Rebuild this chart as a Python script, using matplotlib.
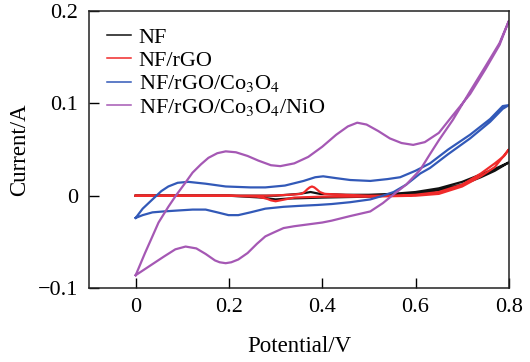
import matplotlib
matplotlib.use("Agg")
import matplotlib.pyplot as plt

plt.rcParams['font.family'] = ['Liberation Serif', 'DejaVu Serif']
plt.rcParams['mathtext.fontset'] = 'stix'

labels = ['NF', 'NF/rGO', r'NF/rGO/Co$_3$O$_4$', r'NF/rGO/Co$_3$O$_4$/NiO']
colors = ['#111111', '#f02a2a', '#3259b8', '#a558b4']

# NF (black)
nf_fwd_x = [0.000, 0.200, 0.300, 0.350, 0.375, 0.395, 0.450, 0.500, 0.550, 0.600, 0.650, 0.700, 0.740, 0.770, 0.800]
nf_fwd_y = [0.000, 0.000, 0.000, 0.002, 0.004, 0.002, 0.001, 0.001, 0.002, 0.004, 0.008, 0.015, 0.023, 0.029, 0.036]
nf_rev_x = [0.800, 0.770, 0.740, 0.700, 0.650, 0.600, 0.500, 0.400, 0.330, 0.300, 0.270, 0.200, 0.000]
nf_rev_y = [0.036, 0.027, 0.020, 0.012, 0.006, 0.002, -0.001, -0.002, -0.003, -0.004, -0.002, 0.000, 0.000]

# NF/rGO (red)
rgo_fwd_x = [0.000, 0.100, 0.200, 0.280, 0.330, 0.355, 0.362, 0.368, 0.373, 0.378, 0.383, 0.388, 0.395, 0.405, 0.450, 0.500, 0.550, 0.600, 0.650, 0.700, 0.740, 0.770, 0.790, 0.800]
rgo_fwd_y = [0.000, 0.000, 0.000, 0.000, 0.001, 0.002, 0.004, 0.007, 0.009, 0.010, 0.009, 0.007, 0.004, 0.002, 0.001, 0.000, 0.000, 0.001, 0.004, 0.012, 0.024, 0.035, 0.043, 0.050]
rgo_rev_x = [0.800, 0.770, 0.740, 0.700, 0.650, 0.600, 0.500, 0.400, 0.340, 0.320, 0.310, 0.300, 0.290, 0.280, 0.260, 0.200, 0.100, 0.000]
rgo_rev_y = [0.050, 0.031, 0.021, 0.010, 0.002, 0.000, -0.001, -0.001, -0.002, -0.004, -0.005, -0.006, -0.005, -0.003, -0.001, 0.000, 0.000, 0.000]

# NF/rGO/Co3O4 (blue)
co_fwd_x = [0.000, 0.015, 0.036, 0.055, 0.070, 0.090, 0.113, 0.150, 0.193, 0.246, 0.278, 0.320, 0.360, 0.385, 0.402, 0.430, 0.460, 0.503, 0.540, 0.567, 0.600, 0.631, 0.670, 0.717, 0.760, 0.787, 0.800]
co_fwd_y = [-0.024, -0.014, -0.004, 0.005, 0.010, 0.014, 0.015, 0.013, 0.010, 0.009, 0.009, 0.011, 0.016, 0.020, 0.021, 0.019, 0.017, 0.016, 0.018, 0.020, 0.027, 0.035, 0.050, 0.066, 0.083, 0.097, 0.098]
co_rev_x = [0.800, 0.787, 0.760, 0.717, 0.670, 0.631, 0.610, 0.580, 0.553, 0.530, 0.503, 0.460, 0.420, 0.390, 0.350, 0.317, 0.278, 0.246, 0.220, 0.199, 0.175, 0.150, 0.122, 0.090, 0.060, 0.036, 0.015, 0.000]
co_rev_y = [0.098, 0.094, 0.080, 0.062, 0.045, 0.030, 0.024, 0.012, 0.004, 0.000, -0.004, -0.007, -0.009, -0.010, -0.011, -0.012, -0.014, -0.018, -0.021, -0.021, -0.018, -0.015, -0.015, -0.016, -0.017, -0.018, -0.021, -0.024]

# NF/rGO/Co3O4/NiO (purple)
nio_fwd_x = [0.000, 0.010, 0.020, 0.035, 0.049, 0.070, 0.086, 0.105, 0.122, 0.140, 0.156, 0.175, 0.193, 0.215, 0.240, 0.263, 0.290, 0.310, 0.340, 0.370, 0.400, 0.430, 0.455, 0.475, 0.495, 0.520, 0.545, 0.570, 0.595, 0.620, 0.650, 0.680, 0.717, 0.750, 0.780, 0.800]
nio_fwd_y = [-0.086, -0.074, -0.062, -0.045, -0.029, -0.012, 0.000, 0.013, 0.025, 0.034, 0.041, 0.046, 0.048, 0.047, 0.043, 0.038, 0.033, 0.032, 0.035, 0.042, 0.053, 0.066, 0.075, 0.079, 0.077, 0.070, 0.062, 0.057, 0.055, 0.058, 0.068, 0.087, 0.110, 0.137, 0.163, 0.189]
nio_rev_x = [0.800, 0.780, 0.750, 0.717, 0.680, 0.650, 0.631, 0.610, 0.580, 0.552, 0.530, 0.503, 0.460, 0.420, 0.400, 0.370, 0.340, 0.317, 0.295, 0.278, 0.260, 0.240, 0.220, 0.205, 0.193, 0.180, 0.170, 0.150, 0.130, 0.107, 0.085, 0.060, 0.030, 0.000]
nio_rev_y = [0.189, 0.165, 0.140, 0.113, 0.082, 0.060, 0.045, 0.028, 0.012, 0.001, -0.008, -0.017, -0.022, -0.027, -0.029, -0.031, -0.033, -0.035, -0.040, -0.044, -0.052, -0.062, -0.069, -0.072, -0.073, -0.072, -0.070, -0.063, -0.057, -0.055, -0.058, -0.066, -0.076, -0.086]

curves = [
    (nf_fwd_x + nf_rev_x, nf_fwd_y + nf_rev_y),
    (rgo_fwd_x + rgo_rev_x, rgo_fwd_y + rgo_rev_y),
    (co_fwd_x + co_rev_x, co_fwd_y + co_rev_y),
    (nio_fwd_x + nio_rev_x, nio_fwd_y + nio_rev_y),
]

x_ticks = [0, 0.2, 0.4, 0.6, 0.8]
x_ticklabels = ['0', '0.2', '0.4', '0.6', '0.8']
y_ticks = [-0.1, 0, 0.1, 0.2]
y_ticklabels = ['\u22120.1', '0', '0.1', '0.2']

fig = plt.figure(figsize=(5.30, 3.62), dpi=100)
ax = fig.add_axes([0.168, 0.204, 0.792, 0.766])

for (xs, ys), lab, c in zip(curves, labels, colors):
    ax.plot(xs, ys, color=c, lw=1.6, label=lab, solid_joinstyle='round')

ax.set_xlim(-0.1, 0.8)
ax.set_ylim(-0.1, 0.2)
ax.set_xticks(x_ticks)
ax.set_xticklabels(x_ticklabels)
ax.set_yticks(y_ticks)
ax.set_yticklabels(y_ticklabels)
ax.tick_params(direction='in', length=7, width=1, labelsize=16)
ax.tick_params(axis='y', pad=8)
ax.tick_params(axis='x', pad=7)
for s in ax.spines.values():
    s.set_linewidth(1.1)
    s.set_color('#222222')

ax.set_xlabel('Potential/V', fontsize=16.5, labelpad=14)
ax.set_ylabel('Current/A', fontsize=16.5, labelpad=5)

leg = ax.legend(loc='upper left', bbox_to_anchor=(0.012, 0.99), frameon=False,
                fontsize=16, handlelength=1.05, handletextpad=0.35,
                labelspacing=0.12, borderaxespad=0.2)
for h in leg.get_lines():
    h.set_linewidth(1.1)

fig.savefig('out.png', dpi=100)
